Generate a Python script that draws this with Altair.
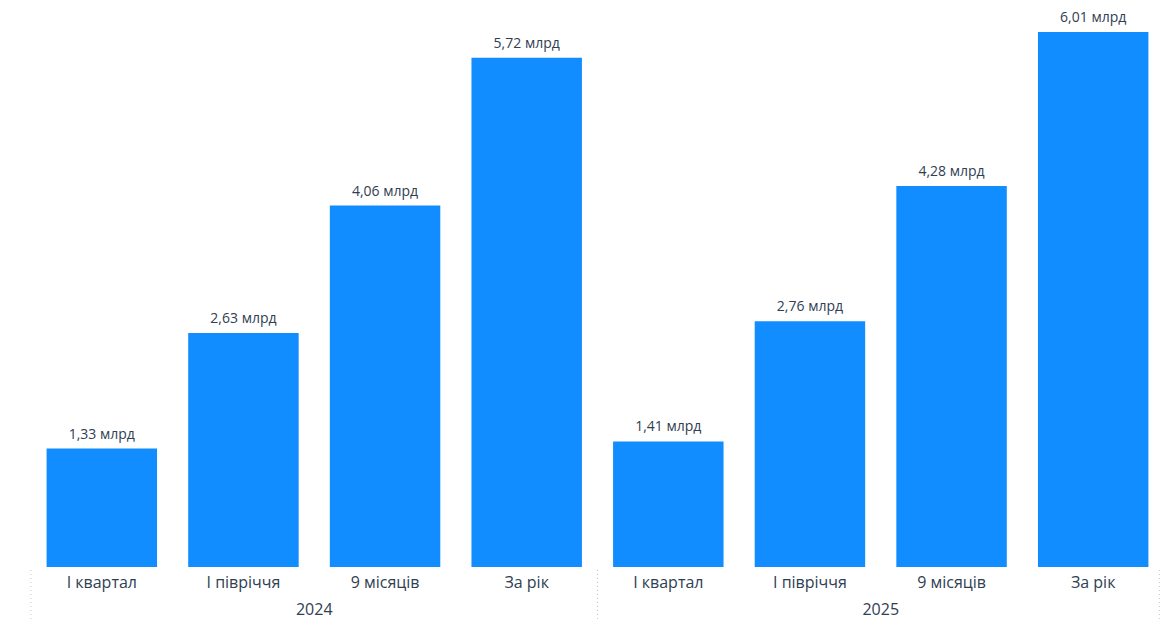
import altair as alt
import pandas as pd

years = ["2024", "2024", "2024", "2024", "2025", "2025", "2025", "2025"]
periods = ["І квартал", "І півріччя", "9 місяців", "За рік",
           "І квартал", "І півріччя", "9 місяців", "За рік"]
values = [1.33, 2.63, 4.06, 5.72, 1.41, 2.76, 4.28, 6.01]

keys = [f"{y}|{p}" for y, p in zip(years, periods)]
df = pd.DataFrame({
    "key": keys,
    "year": years,
    "period": periods,
    "value": values,
    "label": [f"{v:.2f}".replace(".", ",") + " млрд" for v in values],
})

W, H = 1129, 555
RANGE_W = 1133
FONT = "Segoe UI, Open Sans"
TXT = "#2f4052"
half_gap = 15.6

xenc = alt.X("key:N", sort=keys,
             scale=alt.Scale(paddingInner=0.22, paddingOuter=0.11, range=[0, RANGE_W]),
             axis=alt.Axis(title=None, labelAngle=0, domain=False, ticks=False,
                           labelFontSize=16, labelColor=TXT, labelFont=FONT,
                           labelPadding=7,
                           labelExpr="split(datum.value, '|')[1]"))
yenc = alt.Y("value:Q", scale=alt.Scale(domain=[0, 6.235], nice=False, zero=True),
             axis=None)

base = alt.Chart(df)

bars = base.mark_bar(color="#118DFF").encode(x=xenc, y=yenc)

labels = base.mark_text(baseline="bottom", dy=-7, fontSize=14, font=FONT,
                        color=TXT).encode(x=xenc, y=yenc, text="label:N")

first_df = df.groupby("year", as_index=False).first()
third_df = df.groupby("year", as_index=False).nth(2)
last_df = df.tail(1)

sep_left = alt.Chart(first_df).mark_rule(
    xOffset=-half_gap, color="#c8c8c8", strokeDash=[1, 3], strokeWidth=1
).encode(x=alt.X("key:N", sort=keys, bandPosition=0),
         y=alt.value(H + 3), y2=alt.value(H + 70))

sep_right = alt.Chart(last_df).mark_rule(
    xOffset=11, color="#c8c8c8", strokeDash=[1, 3], strokeWidth=1
).encode(x=alt.X("key:N", sort=keys, bandPosition=1),
         y=alt.value(H + 3), y2=alt.value(H + 70))

year_text = alt.Chart(third_df).mark_text(
    dx=-half_gap, fontSize=16, font=FONT, color=TXT, baseline="middle"
).encode(x=alt.X("key:N", sort=keys, bandPosition=0),
         y=alt.value(H + 43), text="year:N")

chart = alt.layer(bars, labels, sep_left, sep_right, year_text).properties(
    width=W, height=H,
    background="white",
    autosize=alt.AutoSizeParams(type="none"),
    padding={"left": 23, "top": 4, "right": 0, "bottom": 53},
).configure_view(stroke=None)

chart.save("out.html", embed_options={"renderer": "svg", "actions": False})
